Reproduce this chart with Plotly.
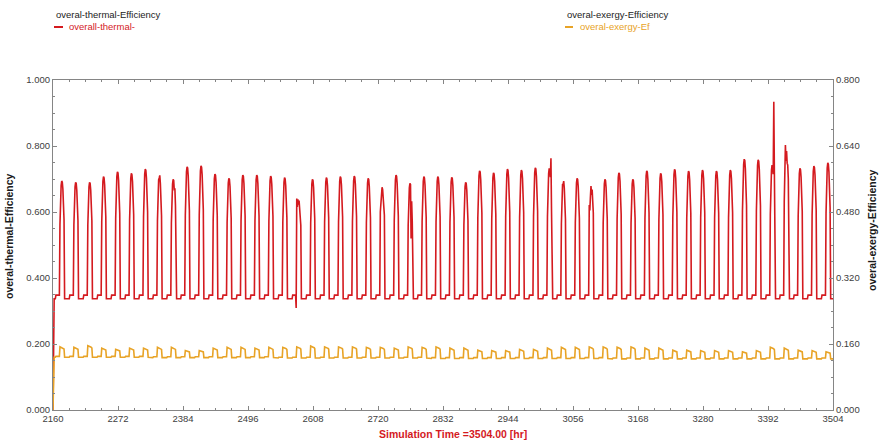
import plotly.graph_objects as go

# ---- time axis -------------------------------------------------------------
t_start = 2160
t_end = 3504
x_ticks = list(range(2160, 3505, 112))

# ---- overall thermal efficiency (left axis) ---------------------------------
# daily maximum of the day-time plateau, one value per simulated day
thermal_peak = [
    0.694, 0.690, 0.690, 0.707, 0.722, 0.717, 0.730, 0.712, 0.699, 0.737,
    0.740, 0.715, 0.702, 0.712, 0.712, 0.709, 0.704, 0.641, 0.699, 0.704,
    0.707, 0.709, 0.702, 0.675, 0.712, 0.687, 0.707, 0.707, 0.705, 0.690,
    0.725, 0.719, 0.730, 0.727, 0.734, 0.732, 0.697, 0.702, 0.679, 0.699,
    0.719, 0.699, 0.725, 0.717, 0.729, 0.724, 0.727, 0.724, 0.727, 0.760,
    0.758, 0.742, 0.803, 0.732, 0.739, 0.749,
]
# night level: lower after sunset, slightly higher before sunrise
thermal_night_after = 0.337
thermal_night_before = 0.348
# hourly shape of the day-time hump (0 = night level, 1 = daily peak)
thermal_shape = [0, 0, 0, 0, 0, 0, 0, 0, 0, 0, 0, 0,
                 0.62, 0.85, 0.96, 1.00, 0.99, 0.93, 0.84, 0.66,
                 0, 0, 0, 0]
# irregular hours (day, hour) -> value
thermal_events = {
    (7, 15): 0.703, (7, 16): 0.711,
    (8, 17): 0.665, (8, 18): 0.672, (8, 19): 0.620,
    (17, 11): 0.309, (17, 12): 0.641, (17, 13): 0.615, (17, 14): 0.638,
    (17, 15): 0.622, (17, 16): 0.635, (17, 17): 0.615, (17, 18): 0.600,
    (17, 19): 0.560,
    (23, 12): 0.600, (23, 13): 0.625, (23, 14): 0.660, (23, 15): 0.675,
    (23, 16): 0.668, (23, 17): 0.640, (23, 18): 0.625, (23, 19): 0.590,
    (25, 17): 0.520,
    (35, 18): 0.763,
    (36, 15): 0.684,
    (38, 12): 0.621, (38, 13): 0.605, (38, 14): 0.645, (38, 15): 0.679,
    (38, 16): 0.652, (38, 17): 0.668, (38, 18): 0.632, (38, 19): 0.597,
    (51, 18): 0.934, (51, 19): 0.720,
    (52, 13): 0.739, (52, 14): 0.803, (52, 15): 0.755, (52, 16): 0.785,
    (52, 17): 0.748, (52, 18): 0.742, (52, 19): 0.700,
}

# ---- overall exergy efficiency (right axis) ---------------------------------
exergy_peak = [
    0.153, 0.152, 0.156, 0.150, 0.147, 0.150, 0.150, 0.152, 0.152, 0.144,
    0.144, 0.150, 0.152, 0.152, 0.150, 0.152, 0.152, 0.153, 0.155, 0.153,
    0.153, 0.153, 0.152, 0.152, 0.150, 0.153, 0.152, 0.153, 0.150, 0.150,
    0.145, 0.144, 0.144, 0.147, 0.147, 0.150, 0.152, 0.152, 0.153, 0.153,
    0.152, 0.153, 0.150, 0.150, 0.145, 0.145, 0.144, 0.144, 0.144, 0.141,
    0.144, 0.152, 0.150, 0.145, 0.144, 0.141,
]
exergy_night = [
    0.130, 0.130, 0.130, 0.130, 0.130, 0.130, 0.130, 0.129, 0.129, 0.129,
    0.129, 0.129, 0.129, 0.129, 0.129, 0.129, 0.128, 0.128, 0.128, 0.128,
    0.128, 0.128, 0.128, 0.128, 0.128, 0.128, 0.128, 0.127, 0.127, 0.127,
    0.127, 0.127, 0.127, 0.127, 0.127, 0.127, 0.127, 0.127, 0.127, 0.127,
    0.126, 0.126, 0.126, 0.126, 0.126, 0.126, 0.126, 0.126, 0.126, 0.126,
    0.126, 0.126, 0.126, 0.126, 0.126, 0.126,
]
exergy_shape = [0, 0, 0, 0, 0, 0, 0, 0, 0, 0, 0, 0,
                1.00, 0.96, 0.93, 0.92, 0.90, 0.88, 0.85, 0.78,
                0, 0, 0, 0]

n_days = len(thermal_peak)

time_hr = list(range(t_start, t_end + 1))
thermal = []
exergy = []
for t in time_hr:
    i = t - t_start
    if i == 0:
        thermal.append(0.0)
        exergy.append(0.0)
        continue
    day, hour = divmod(i, 24)
    if day >= n_days:
        day, hour = n_days - 1, 23
    if (day, hour) in thermal_events:
        thermal.append(thermal_events[(day, hour)])
    elif thermal_shape[hour] > 0:
        thermal.append(thermal_night_before
                       + thermal_shape[hour] * (thermal_peak[day] - thermal_night_before))
    elif 5 <= hour <= 11:
        thermal.append(thermal_night_before)
    else:
        thermal.append(thermal_night_after)
    if exergy_shape[hour] > 0:
        exergy.append(exergy_night[day]
                      + exergy_shape[hour] * (exergy_peak[day] - exergy_night[day]))
    elif 5 <= hour <= 11:
        exergy.append(exergy_night[day])
    else:
        exergy.append(exergy_night[day] - 0.002)

RED = "#d41a1f"
ORANGE = "#e8a326"
AXIS = "#858585"
TEXT = "#404040"
FONT = "Liberation Sans, Arial, sans-serif"

fig = go.Figure()
fig.add_trace(go.Scatter(x=time_hr, y=thermal, mode="lines", name="overall-thermal-",
                         line=dict(color=RED, width=1.6), showlegend=False))
fig.add_trace(go.Scatter(x=time_hr, y=exergy, mode="lines", name="overal-exergy-Ef",
                         line=dict(color=ORANGE, width=1.6), yaxis="y2", showlegend=False))

tickfont = dict(family=FONT, size=9.5, color=TEXT)
fig.update_layout(
    width=880, height=443,
    margin=dict(l=53, r=47, t=80, b=33),
    paper_bgcolor="white", plot_bgcolor="white",
    font=dict(family=FONT),
    xaxis=dict(range=[t_start, t_end], tickvals=x_ticks, tickfont=tickfont,
               showgrid=False, zeroline=False, showline=True, linecolor=AXIS,
               linewidth=1, mirror="ticks", ticks="inside", ticklen=4,
               tickcolor=AXIS,
               minor=dict(dtick=28, tick0=2160, ticks="inside", ticklen=2,
                          tickcolor=AXIS)),
    yaxis=dict(range=[0, 1], dtick=0.2, tickformat=".3f", tickfont=tickfont,
               showgrid=False, zeroline=False, showline=True, linecolor=AXIS,
               linewidth=1, ticks="inside", ticklen=4, tickcolor=AXIS,
               minor=dict(dtick=0.05, ticks="inside", ticklen=2, tickcolor=AXIS)),
    yaxis2=dict(range=[0, 0.8], dtick=0.16, tickformat=".3f", tickfont=tickfont,
                overlaying="y", side="right",
                showgrid=False, zeroline=False, showline=True, linecolor=AXIS,
                linewidth=1, ticks="inside", ticklen=4, tickcolor=AXIS,
                minor=dict(dtick=0.04, ticks="inside", ticklen=2, tickcolor=AXIS)),
)

def px_x(px):
    return (px - 53) / 780.0

def px_y(py):
    return (410 - py) / 330.0

ann = []
# axis titles
ann.append(dict(text="<b>overal-thermal-Efficiency</b>", x=px_x(9), y=px_y(236),
                textangle=-90, font=dict(size=10.5, color="#1a1a1a")))
ann.append(dict(text="<b>overal-exergy-Efficiency</b>", x=px_x(872), y=px_y(230),
                textangle=-90, font=dict(size=10.5, color="#1a1a1a")))
ann.append(dict(text="<b>Simulation Time =3504.00 [hr]</b>", x=px_x(453), y=px_y(434),
                font=dict(size=10.5, color=RED)))
# legend headers and entries
ann.append(dict(text="overal-thermal-Efficiency", x=px_x(54), y=px_y(14),
                xanchor="left", font=dict(size=9.5, color="#222222")))
ann.append(dict(text="overall-thermal-", x=px_x(67), y=px_y(27),
                xanchor="left", font=dict(size=9.5, color=RED)))
ann.append(dict(text="overal-exergy-Efficiency", x=px_x(565), y=px_y(14),
                xanchor="left", font=dict(size=9.5, color="#222222")))
ann.append(dict(text="overal-exergy-Ef", x=px_x(578), y=px_y(27),
                xanchor="left", font=dict(size=9.5, color=ORANGE)))
for a in ann:
    a.setdefault("xanchor", "center")
    a.update(xref="paper", yref="paper", yanchor="middle", showarrow=False)
    a["font"]["family"] = FONT
fig.update_layout(annotations=ann)

# short line keys beside the legend entries
fig.add_shape(type="line", xref="paper", yref="paper", x0=px_x(54), x1=px_x(63),
              y0=px_y(27), y1=px_y(27), line=dict(color=RED, width=2))
fig.add_shape(type="line", xref="paper", yref="paper", x0=px_x(565), x1=px_x(573),
              y0=px_y(27), y1=px_y(27), line=dict(color=ORANGE, width=2))

fig.write_html("out.html")
